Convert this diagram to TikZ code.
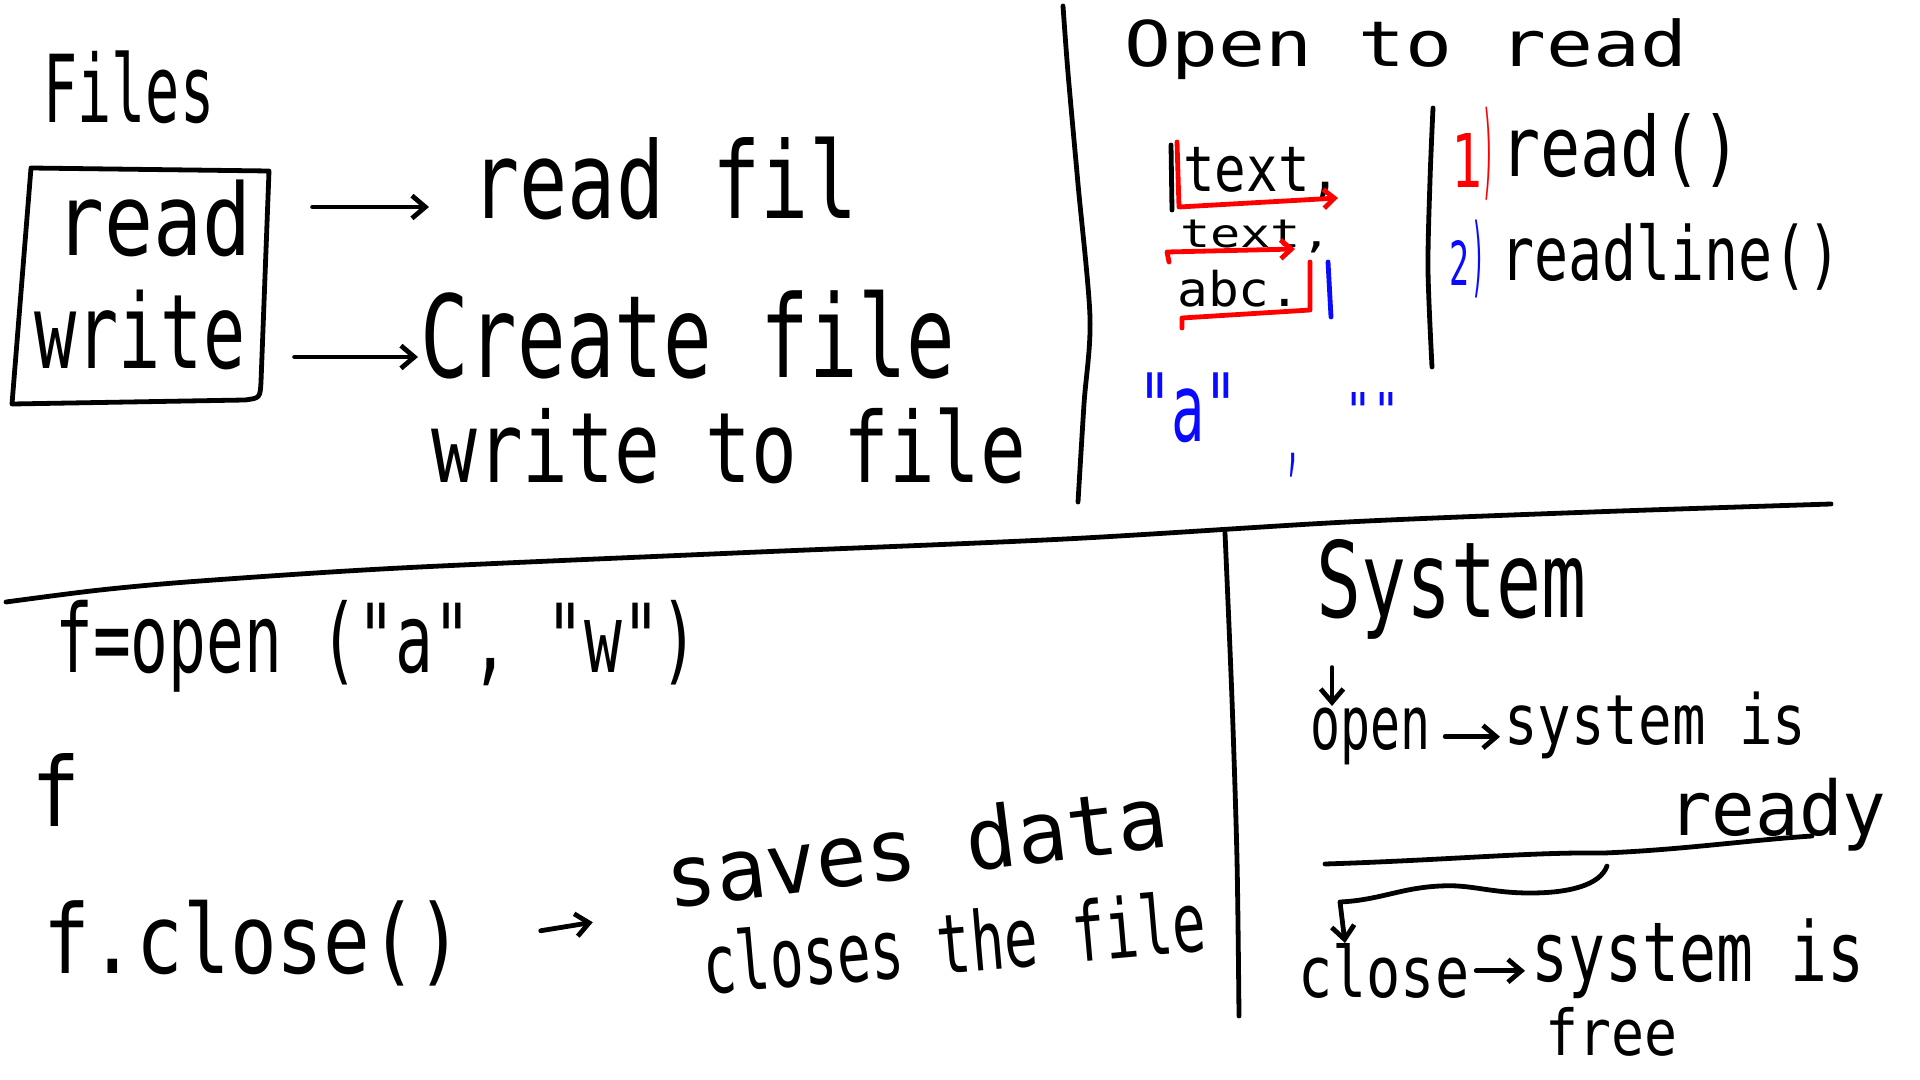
\documentclass[tikz,border=0pt]{standalone}
\usepackage{fontspec}
\usepackage{graphicx}
\usepackage{xcolor}
\usetikzlibrary{arrows.meta}
\newfontfamily\hand{DejaVu Sans Mono}
\newlength{\pxu}
\setlength{\pxu}{0.75pt}
\newcommand{\hw}[3]{\resizebox*{#1\pxu}{#2\pxu}{#3}}
\definecolor{penred}{RGB}{255,0,0}
\definecolor{penblue}{RGB}{10,10,255}

\begin{document}
\begin{tikzpicture}[x=0.75pt,y=0.75pt,yscale=-1,xscale=1,
  pen/.style={line width=3.6pt,line cap=round,line join=round},
  handarrow/.style={pen,-{Straight Barb[length=10pt,width=17pt]}},
  hw/.style={anchor=north west,inner sep=0pt,font=\hand}]
	\fill[white] (0,0) rectangle (1920,1080);
	\useasboundingbox (0,0) rectangle (1920,1080);
	
	%Straight Lines: dividers
	\draw [pen] plot[smooth] coordinates {(1063,6) (1068,73) (1078,184) (1090,318) (1084,404) (1078,502)};
	\draw [pen] plot[smooth] coordinates {(6,602) (100,590) (200,581) (400,568) (735,553) (1065,539) (1347,522) (1592,512) (1831,504)};
	\draw [pen] plot[smooth] coordinates {(1225,533) (1232,700) (1237,860) (1239,1016)};
	\draw [pen] plot[smooth] coordinates {(1433,108) (1430,180) (1428,270) (1432,367)};
	
	%Shape: read / write box
	\draw [pen] (31,168) -- (269,171) -- (261,382) .. controls (260,398) .. (245,400) -- (12,404) -- cycle;
	
	% Text Node
	\draw (43,51) node [hw] (files) {\hw{171}{73}{Files}};
	% Text Node
	\draw (55,180) node [hw] (rdtxt) {\hw{196}{77}{read}};
	% Text Node
	\draw (34,290) node [hw] (wrtxt) {\hw{211}{80}{write}};
	% Text Node
	\draw (471,137) node [hw] (readfil) {\hw{386}{83}{read fil}};
	% Text Node
	\draw (420,290) node [hw] (createfile) {\hw{535}{89}{Create file}};
	% Text Node
	\draw (431,408) node [hw] (writefile) {\hw{595}{76}{write to file}};
	
	\draw [handarrow,shorten <=45.75pt,shorten >=31.5pt] (rdtxt.east |- 0,207) -- (readfil.west |- 0,207);
	\draw [handarrow,shorten <=36.75pt,shorten >=1.5pt] (wrtxt.east |- 0,357) -- (createfile.west |- 0,357);
	
	% Text Node
	\draw (1124,18) node [hw] (opentitle) {\hw{563}{61}{Open to read}};
	% Text Node
	\draw (1183,147) node [hw] (txta) {\hw{158}{53}{text,}};
	% Text Node
	\draw (1180,220) node [hw] (txtb) {\hw{151}{33}{text,}};
	% Text Node
	\draw (1177,270) node [hw] (txtc) {\hw{123}{37}{abc.}};
	
	%Straight Lines: cursor marks
	\draw [pen] (1171,145) -- (1172,210);
	\draw [pen,penred,-{Straight Barb[length=8pt,width=14pt]}] (1177,142) -- (1179,207) -- (1338,198);
	\draw [pen,penred,-{Straight Barb[length=8pt,width=14pt]}] (1169,262) -- (1167,252) -- (1295,249);
	\draw [pen,penred] (1182,328) -- (1182,318) -- (1310,310) -- (1310,262);
	\draw [pen,penblue] (1328,262) -- (1331,317);
	
	% Text Node
	\draw (1451,133) node [hw,text=penred] (numa) {\hw{31}{54}{1}};
	% Text Node
	\draw (1482,107) node [hw,text=penred] (parena) {\hw{12}{93}{)}};
	% Text Node
	\draw (1500,113) node [hw] (readfn) {\hw{241}{74}{read()}};
	% Text Node
	\draw (1449,240) node [hw,text=penblue] (numb) {\hw{20}{45}{2}};
	% Text Node
	\draw (1471,220) node [hw,text=penblue] (parenb) {\hw{14}{78}{)}};
	% Text Node
	\draw (1500,223) node [hw] (readlinefn) {\hw{341}{67}{readline()}};
	
	% Text Node
	\draw (1138,373) node [hw,text=penblue] (quotea) {\hw{100}{70}{"a"}};
	% Text Node
	\draw (1285,453) node [hw,text=penblue] (quotecomma) {\hw{15}{24}{,}};
	% Text Node
	\draw (1344,392) node [hw,text=penblue] (quoteempty) {\hw{56}{36}{""}};
	
	% Text Node
	\draw (55,600) node [hw] (fopen) {\hw{643}{92}{f=open ("a", "w")}};
	% Text Node
	\draw (31,753) node [hw] (fvar) {\hw{49}{73}{f}};
	% Text Node
	\draw (43,900) node [hw] (fclose) {\hw{420}{86}{f.close()}};
	% Text Node
	\draw (916,846) node [font=\hand,inner sep=0pt,rotate=7] (savesdata) {\hw{505}{66}{saves data}};
	% Text Node
	\draw (954,942) node [font=\hand,inner sep=0pt,rotate=5] (closesfile) {\hw{505}{64}{closes the file}};
	
	\draw [handarrow,shorten <=58.5pt,shorten >=58pt] (fclose.east) -- (savesdata.south west);
	
	% Text Node
	\draw (1316,539) node [hw] (systitle) {\hw{270}{100}{System}};
	% Text Node
	\draw (1310,708) node [hw] (opentxt) {\hw{120}{57}{open}};
	% Text Node
	\draw (1504,692) node [hw] (sysready) {\hw{302}{67}{system is}};
	% Text Node
	\draw (1668,778) node [hw] (ready) {\hw{218}{73}{ready}};
	% Text Node
	\draw (1298,943) node [hw] (closetxt) {\hw{171}{55}{close}};
	% Text Node
	\draw (1531,918) node [hw] (sysfree) {\hw{333}{80}{system is}};
	% Text Node
	\draw (1545,1007) node [hw] (free) {\hw{132}{49}{free}};
	
	\draw [handarrow,shorten <=21pt,shorten >=1.5pt] (systitle.south -| 1332,0) -- (opentxt.north -| 1332,0);
	\draw [handarrow,shorten <=11pt,shorten >=3pt] (opentxt.east) -- (sysready.west |- opentxt.east);
	\draw [handarrow,shorten <=5pt,shorten >=4.5pt] (closetxt.east) -- (sysfree.west |- closetxt.east);
	
	%Curve Lines
	\draw [pen] (1325,864) .. controls (1450,860) and (1530,852) .. (1604,853) .. controls (1680,850) and (1750,840) .. (1812,836);
	\draw [handarrow] (1607,866) .. controls (1600,885) and (1570,893) .. (1530,893) .. controls (1490,893) and (1470,884) .. (1440,886) .. controls (1400,888) and (1380,900) .. (1340,902) -- (closetxt.north -| 1345,0);
	
\end{tikzpicture}
\end{document}
